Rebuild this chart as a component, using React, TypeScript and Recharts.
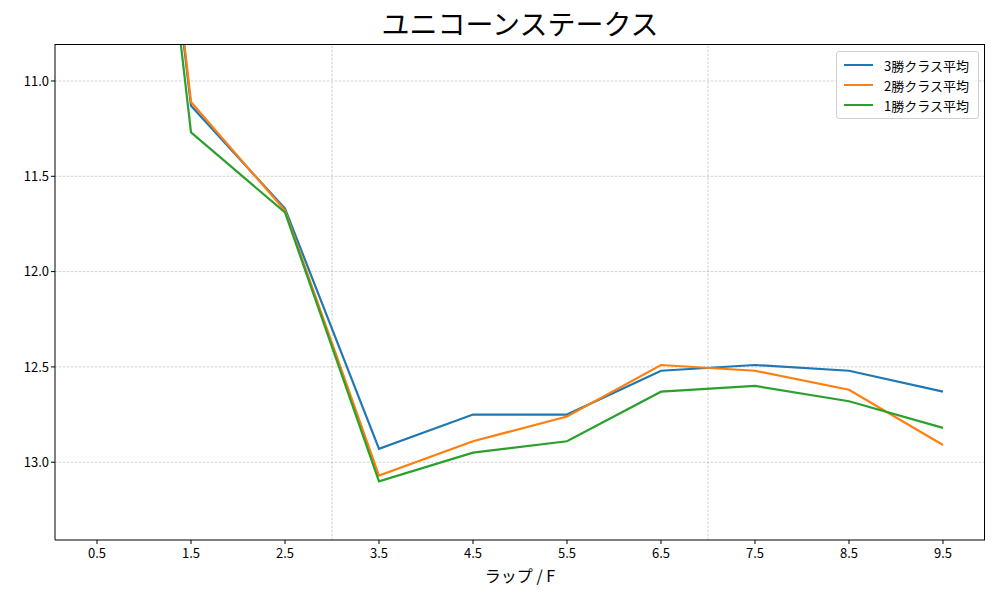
import React from "react";
import {
  LineChart,
  Line,
  XAxis,
  YAxis,
  ReferenceLine,
  Legend,
} from "recharts";

// ラップ位置（F）
const laps = [0.5, 1.5, 2.5, 3.5, 4.5, 5.5, 6.5, 7.5, 8.5, 9.5];
const class3Avg = [6.9, 11.13, 11.67, 12.93, 12.75, 12.75, 12.52, 12.49, 12.52, 12.63];
const class2Avg = [6.8, 11.11, 11.68, 13.07, 12.89, 12.76, 12.49, 12.52, 12.62, 12.91];
const class1Avg = [7.0, 11.27, 11.69, 13.1, 12.95, 12.89, 12.63, 12.6, 12.68, 12.82];

const xTicks = [0.5, 1.5, 2.5, 3.5, 4.5, 5.5, 6.5, 7.5, 8.5, 9.5];
const yTicks = [11.0, 11.5, 12.0, 12.5, 13.0];
const markerLaps = [3, 7];

const seriesList = [
  { key: "c3", name: "3勝クラス平均", color: "#1f77b4" },
  { key: "c2", name: "2勝クラス平均", color: "#ff7f0e" },
  { key: "c1", name: "1勝クラス平均", color: "#2ca02c" },
];

const FONT = '"Noto Sans CJK JP", "Noto Sans", sans-serif';
const GRID = { stroke: "#b0b0b0", strokeWidth: 0.6, strokeDasharray: "2.5 1.5" };

const chartData = laps.map((lap, i) => ({
  lap,
  c3: class3Avg[i],
  c2: class2Avg[i],
  c1: class1Avg[i],
}));

function LegendBox() {
  return (
    <div
      style={{
        border: "1px solid #d0d0d0",
        borderRadius: 3,
        background: "rgba(255,255,255,0.8)",
        padding: "3px 7px",
        fontFamily: FONT,
        fontSize: 13,
        color: "#000",
      }}
    >
      {seriesList.map((s) => (
        <div key={s.key} style={{ display: "flex", alignItems: "center", height: 20 }}>
          <span
            style={{
              display: "inline-block",
              width: 29,
              height: 2,
              background: s.color,
              marginRight: 11,
            }}
          />
          <span>{s.name}</span>
        </div>
      ))}
    </div>
  );
}

export default function App() {
  return (
    <div style={{ position: "absolute", left: 0, top: 0, width: 1000, height: 600, background: "#fff" }}>
      <div
        style={{
          position: "absolute",
          left: 55,
          width: 930,
          top: 3,
          textAlign: "center",
          fontFamily: FONT,
          fontSize: 28,
          color: "#000",
        }}
      >
        ユニコーンステークス
      </div>
      <LineChart
        width={1000}
        height={600}
        data={chartData}
        margin={{ top: 44, right: 15, bottom: 0, left: 0 }}
        style={{ fontFamily: FONT }}
      >
        {yTicks.map((y) => (
          <ReferenceLine key={`h${y}`} y={y} {...GRID} />
        ))}
        {markerLaps.map((x) => (
          <ReferenceLine key={`v${x}`} x={x} {...GRID} />
        ))}
        <XAxis
          dataKey="lap"
          type="number"
          domain={[0.053, 9.947]}
          ticks={xTicks}
          allowDataOverflow
          height={60}
          tickSize={4}
          tickMargin={5}
          tickFormatter={(v) => v.toFixed(1)}
          stroke="#000"
          tick={{ fill: "#000", fontSize: 13 }}
          label={{
            value: "ラップ / F",
            position: "insideBottom",
            offset: 18,
            fill: "#000",
            fontSize: 16,
          }}
        />
        <YAxis
          type="number"
          reversed
          domain={[10.806, 13.408]}
          ticks={yTicks}
          allowDataOverflow
          width={55}
          tickSize={4}
          tickFormatter={(v) => v.toFixed(1)}
          stroke="#000"
          tick={{ fill: "#000", fontSize: 13 }}
        />
        {seriesList.map((s) => (
          <Line
            key={s.key}
            type="linear"
            dataKey={s.key}
            name={s.name}
            stroke={s.color}
            strokeWidth={2.2}
            dot={false}
            activeDot={false}
            isAnimationActive={false}
          />
        ))}
        <Legend
          layout="horizontal"
          verticalAlign="middle"
          align="center"
          width={143}
          wrapperStyle={{ top: 51, left: 836, width: 143 }}
          content={() => <LegendBox />}
        />
      </LineChart>
      {/* 上・右の枠線 */}
      <div
        style={{
          position: "absolute",
          left: 55,
          top: 44,
          width: 930,
          height: 496,
          boxSizing: "border-box",
          borderTop: "1px solid #000",
          borderRight: "1px solid #000",
          pointerEvents: "none",
        }}
      />
    </div>
  );
}
